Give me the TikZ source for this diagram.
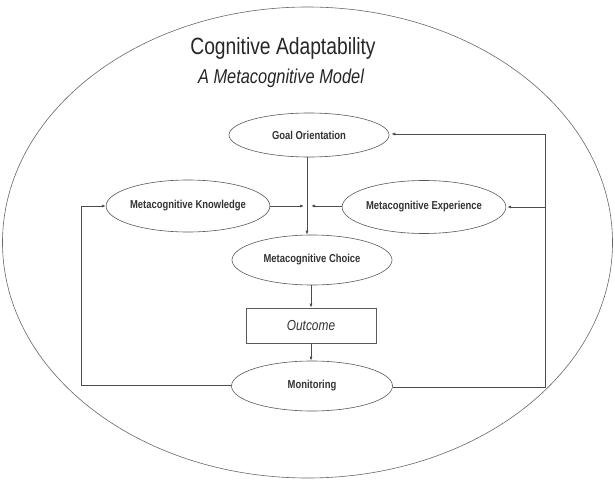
\documentclass[tikz,border=0pt]{standalone}
\usepackage{fontspec}
\setmainfont{Liberation Sans}[FakeStretch=0.82]
\usetikzlibrary{shapes.geometric,arrows.meta}
\begin{document}
\begin{tikzpicture}[x=1pt,y=-1pt,
  line/.style={draw=black!70,line width=0.7pt},
  arr/.style={line,-{Latex[length=4pt,width=3pt]}},
  oval/.style={ellipse,draw=black!65,line width=0.6pt,minimum width=#1,minimum height=50pt,inner sep=0pt,font=\fontsize{11.5}{13}\selectfont\bfseries,text=black!80},
  box/.style={rectangle,draw=black!65,line width=0.6pt,minimum width=130pt,minimum height=35pt,inner sep=0pt,font=\fontsize{14.5}{16}\selectfont\itshape,text=black!80}]
\useasboundingbox (0,0) rectangle (615,481);
\node[ellipse,draw=black!60,line width=0.6pt,minimum width=610pt,minimum height=471pt,inner sep=0pt] (outer) at (307.5,242.5) {};
\node[font=\fontsize{23.5}{26}\selectfont,text=black!85,anchor=base,inner sep=0pt] (title) at (283,55) {Cognitive Adaptability};
\node[font=\fontsize{20}{23}\selectfont\itshape,text=black!85,anchor=base,inner sep=0pt] (sub) at (281,84) {A Metacognitive Model};
\node[oval=160pt,minimum height=44pt] (goal) at (309,135) {Goal Orientation};
\node[oval=161pt,minimum height=52pt] (know) at (188,206) {Metacognitive Knowledge};
\node[oval=162pt,minimum height=53pt] (exp) at (424,207) {Metacognitive Experience};
\node[oval=160pt] (choice) at (312,260) {Metacognitive Choice};
\node[box] (out) at (311,325.5) {Outcome};
\node[oval=161pt] (mon) at (312,386) {Monitoring};
\coordinate (j) at (307,206);
\coordinate (rt) at (545,134);
\coordinate (rm) at (545,207);
\coordinate (rb) at (545,387);
\coordinate (lb) at (81,385);
\coordinate (lt) at (81,206);
\draw[arr] (goal.south -| j) -- (choice.north -| j);
\draw[arr] (know.east |- j) -- ([xshift=-3pt]j);
\draw[arr] (exp.west |- j) -- ([xshift=4pt]j);
\draw[arr] (choice.south -| out.north) -- (out.north);
\draw[arr] (out.south) -- (out.south |- mon.north);
\draw[line] (mon.east |- rb) -- (rb) -- (rt);
\draw[arr] (rt) -- ([xshift=2pt]goal.east |- rt);
\draw[arr] (rm) -- ([xshift=1pt]exp.east |- rm);
\draw[line] (mon.west |- lb) -- (lb) -- (lt);
\draw[arr] (lt) -- (know.west |- lt);
\end{tikzpicture}
\end{document}
